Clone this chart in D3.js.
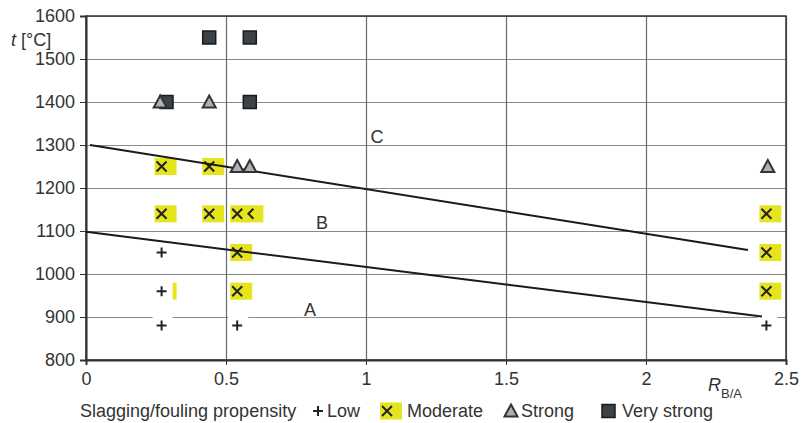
<!DOCTYPE html>
<html>
<head>
<meta charset="utf-8">
<script src="https://cdn.jsdelivr.net/npm/d3@7"></script>
<style>
  body { margin: 0; background: #fff; }
  svg text { font-family: "Liberation Sans", Arial, sans-serif; fill: #333; }
</style>
</head>
<body>
<svg id="chart" width="804" height="423"></svg>
<script>
// Ratio R_B/A vs. temperature, by slagging/fouling propensity
const xTicks = [0, 0.5, 1, 1.5, 2, 2.5];
const yTicks = [800, 900, 1000, 1100, 1200, 1300, 1400, 1500, 1600];

const lowPoints = [[0.27, 1050], [0.27, 960], [0.27, 880], [0.54, 880], [2.43, 880]];
const moderatePoints = [[0.27, 1250], [0.44, 1250], [0.27, 1140], [0.44, 1140], [0.54, 1140],
  [0.54, 1050], [0.54, 960], [0.27, 960], [2.43, 1140], [2.43, 1050], [2.43, 960]];
const moderateHalf = [[0.58, 1140]];
const strongPoints = [[0.265, 1400], [0.44, 1400], [0.54, 1250], [0.585, 1250], [2.435, 1250]];
const veryStrongPoints = [[0.44, 1550], [0.585, 1550], [0.2875, 1400], [0.585, 1400]];

const lineC = [[0.014, 1300], [2.364, 1056]];
const lineA = [[0, 1098], [2.414, 901]];
const zoneLabels = [["C", 1.039, 1305], ["B", 0.843, 1105], ["A", 0.8, 902]];

const legendItems = ["Low", "Moderate", "Strong", "Very strong"];

const width = 804, height = 423;
const svg = d3.select("#chart");

const x = d3.scaleLinear().domain([0, 2.5]).range([86, 786]);
const y = d3.scaleLinear().domain([800, 1600]).range([360, 16]);
const font = "Liberation Sans, Arial, sans-serif";

// Gridlines
svg.append("g")
  .attr("transform", "translate(" + x(0) + ",0)")
  .call(d3.axisLeft(y).tickValues(yTicks).tickSize(-(x(2.5) - x(0))).tickFormat(""))
  .call(g => g.select(".domain").remove())
  .call(g => g.selectAll("line").attr("stroke", "#8a8a8a").attr("stroke-width", 1.2));

svg.append("g")
  .attr("transform", "translate(0," + y(800) + ")")
  .call(d3.axisBottom(x).tickValues(xTicks).tickSize(-(y(800) - y(1600))).tickFormat(""))
  .call(g => g.select(".domain").remove())
  .call(g => g.selectAll("line").attr("stroke", "#6a6a6a").attr("stroke-width", 1.2));

// Frame
svg.append("rect")
  .attr("x", x(0)).attr("y", y(1600))
  .attr("width", x(2.5) - x(0)).attr("height", y(800) - y(1600))
  .attr("fill", "none").attr("stroke", "#333").attr("stroke-width", 1.5);

// Y axis
svg.append("g")
  .attr("transform", "translate(" + x(0) + ",0)")
  .call(d3.axisLeft(y).tickValues(yTicks).tickSize(6).tickPadding(5).tickFormat(d3.format("d")))
  .call(g => g.select(".domain").attr("stroke", "#333").attr("stroke-width", 2))
  .call(g => g.selectAll("line").attr("stroke", "#333"))
  .call(g => g.selectAll("text").attr("font-size", 18).attr("fill", "#333").attr("font-family", font));

// X axis
svg.append("g")
  .attr("transform", "translate(0," + y(800) + ")")
  .call(d3.axisBottom(x).tickValues(xTicks).tickSize(5).tickPadding(7).tickFormat(d3.format("")))
  .call(g => g.select(".domain").attr("stroke", "#333").attr("stroke-width", 2))
  .call(g => g.selectAll("line").attr("stroke", "#333"))
  .call(g => g.selectAll("text").attr("font-size", 18).attr("fill", "#333").attr("font-family", font));

// Axis titles
const yt = svg.append("text").attr("x", 11).attr("y", 46).attr("font-size", 18);
yt.append("tspan").attr("font-style", "italic").text("t");
yt.append("tspan").text(" [°C]");

const xt = svg.append("text").attr("x", 708).attr("y", 391).attr("font-size", 18);
xt.append("tspan").attr("font-style", "italic").text("R");
xt.append("tspan").attr("font-size", 13).attr("dy", 7).text("B/A");

// Marker drawers
const yellow = "#e6e41e";
const crossPath = (cx, cy) => `M${cx - 5},${cy - 5}L${cx + 5},${cy + 5}M${cx + 5},${cy - 5}L${cx - 5},${cy + 5}`;
const halfCrossPath = (cx, cy) => `M${cx + 5},${cy - 5}L${cx},${cy}L${cx + 5},${cy + 5}`;

function drawBox(g, cx, cy) {
  g.append("rect").attr("x", cx - 7).attr("y", cy - 8.5).attr("width", 22).attr("height", 17)
    .attr("fill", yellow);
}
function drawStroke(g, d) {
  g.append("path").attr("d", d).attr("fill", "none")
    .attr("stroke", "#222").attr("stroke-width", 2);
}
function drawPlus(g, cx, cy, knockout) {
  if (knockout) {
    g.append("rect").attr("x", cx - 9).attr("y", cy - 10).attr("width", 20).attr("height", 19)
      .attr("fill", "#fff");
  }
  drawStroke(g, `M${cx - 5},${cy}H${cx + 5}M${cx},${cy - 5}V${cy + 5}`);
}
function drawTriangle(g, cx, cy) {
  g.append("path")
    .attr("d", `M${cx},${cy - 6.5}L${cx + 6.5},${cy + 5.5}L${cx - 6.5},${cy + 5.5}Z`)
    .attr("fill", "#b0b0b0").attr("stroke", "#333").attr("stroke-width", 2);
}
function drawSquare(g, cx, cy) {
  g.append("rect").attr("x", cx - 6.5).attr("y", cy - 6.5).attr("width", 13).attr("height", 13)
    .attr("fill", "#3b4348").attr("stroke", "#1a1a1a").attr("stroke-width", 1.5);
}

const marks = svg.append("g");
moderateHalf.forEach(d => drawBox(marks, x(d[0]), y(d[1])));
moderatePoints.forEach(d => drawBox(marks, x(d[0]), y(d[1])));
moderatePoints.forEach(d => drawStroke(marks, crossPath(x(d[0]), y(d[1]))));
moderateHalf.forEach(d => drawStroke(marks, halfCrossPath(x(d[0]), y(d[1]))));
lowPoints.forEach(d => drawPlus(marks, x(d[0]), y(d[1]), true));

// Boundary lines
const line = d3.line().x(d => x(d[0])).y(d => y(d[1]));
[lineC, lineA].forEach(l => {
  svg.append("path").datum(l)
    .attr("fill", "none").attr("stroke", "#1a1a1a").attr("stroke-width", 2)
    .attr("d", line);
});

svg.selectAll(".zone").data(zoneLabels).enter().append("text")
  .attr("x", d => x(d[1])).attr("y", d => y(d[2]))
  .attr("text-anchor", "middle").attr("font-size", 18)
  .text(d => d[0]);

const marks2 = svg.append("g");
veryStrongPoints.forEach(d => drawSquare(marks2, x(d[0]), y(d[1])));
strongPoints.forEach(d => drawTriangle(marks2, x(d[0]), y(d[1])));

// Legend
const ly = 411;
svg.append("text").attr("x", 80).attr("y", 417).attr("font-size", 18).text("Slagging/fouling propensity");
const lg = svg.append("g");
drawPlus(lg, 318, ly, false);
drawBox(lg, 387, ly);
drawStroke(lg, crossPath(387, ly));
drawTriangle(lg, 511, ly);
drawSquare(lg, 608.5, ly);
const labelX = [327, 407, 521, 622];
legendItems.forEach((t, i) => {
  svg.append("text").attr("x", labelX[i]).attr("y", 417).attr("font-size", 18).text(t);
});
</script>
</body>
</html>
